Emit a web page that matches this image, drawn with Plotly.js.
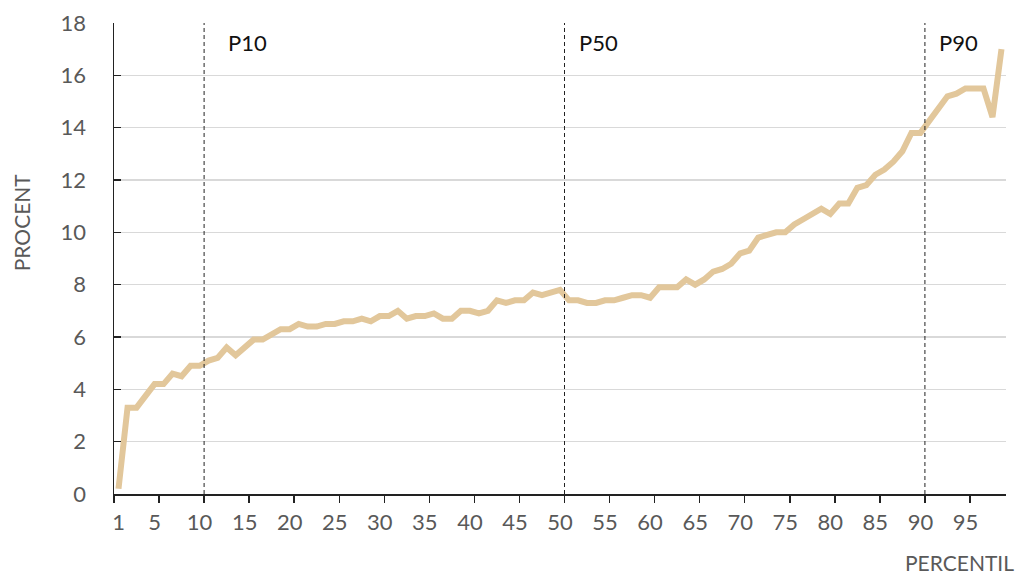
<!DOCTYPE html>
<html>
<head>
<meta charset="utf-8">
<script src="https://cdn.plot.ly/plotly-3.0.1.min.js"></script>
<style>html,body{margin:0;padding:0;background:#fff;}#chart{width:1022px;height:574px;}</style>
</head>
<body>
<div id="chart"></div>
<script>
// Percentiles (categories)
var percentiles = [1,2,3,4,5,6,7,8,9,10,11,12,13,14,15,16,17,18,19,20,21,22,23,24,25,26,27,28,29,30,31,32,33,34,35,36,37,38,39,40,41,42,43,44,45,46,47,48,49,50,51,52,53,54,55,56,57,58,59,60,61,62,63,64,65,66,67,68,69,70,71,72,73,74,75,76,77,78,79,80,81,82,83,84,85,86,87,88,89,90,91,92,93,94,95,96,97,98,99];
// Procent values
var procent = [0.2,3.3,3.3,3.8,4.2,4.2,4.6,4.5,4.9,4.9,
  5.1,5.2,5.6,5.3,5.6,5.9,5.9,6.1,6.3,6.3,
  6.5,6.4,6.4,6.5,6.5,6.6,6.6,6.7,6.6,6.8,
  6.8,7.0,6.7,6.8,6.8,6.9,6.7,6.7,7.0,7.0,
  6.9,7.0,7.4,7.3,7.4,7.4,7.7,7.6,7.7,7.8,
  7.4,7.4,7.3,7.3,7.4,7.4,7.5,7.6,7.6,7.5,
  7.9,7.9,7.9,8.2,8.0,8.2,8.5,8.6,8.8,9.2,
  9.3,9.8,9.9,10.0,10.0,10.3,10.5,10.7,10.9,10.7,
  11.1,11.1,11.7,11.8,12.2,12.4,12.7,13.1,13.8,13.8,
  14.3,14.7,15.2,15.3,15.5,15.5,15.5,14.4,17.0];
// Tick labels
var xTickVals = [1,5,10,15,20,25,30,35,40,45,50,55,60,65,70,75,80,85,90,95];
var xTickText = ['1','5','10','15','20','25','30','35','40','45','50','55','60','65','70','75','80','85','90','95'];
var xBoundaryTicks = [0.5,5.5,10.5,15.5,20.5,25.5,30.5,35.5,40.5,45.5,50.5,55.5,60.5,65.5,70.5,75.5,80.5,85.5,90.5,95.5];
var yTickVals = [0,2,4,6,8,10,12,14,16,18];
// Markers
var markerPos = [10.5, 50.5, 90.5];
var markerLabels = ['P10','P50','P90'];
var markerLabelX = [12.9, 51.9, 91.85];

var FONT = 'Lato, "Open Sans", "DejaVu Sans", sans-serif';
var GRAY = '#595959';

var traces = [
  {x: percentiles, y: procent, type: 'scatter', mode: 'lines',
   line: {color: '#E2C79B', width: 6}, hoverinfo: 'skip', xaxis: 'x', yaxis: 'y'},
  {x: percentiles, y: procent, type: 'scatter', mode: 'lines',
   line: {color: 'rgba(0,0,0,0)', width: 0}, hoverinfo: 'skip', xaxis: 'x2', yaxis: 'y', showlegend: false}
];

var shapes = markerPos.map(function(p){
  return {type: 'line', xref: 'x', yref: 'paper', x0: p, x1: p, y0: 0, y1: 1,
          line: {color: '#222', width: 1, dash: '4px,3px'}, layer: 'above'};
});

var annotations = markerLabels.map(function(t, i){
  return {text: t, xref: 'x', yref: 'y', x: markerLabelX[i], y: 17.27,
          xanchor: 'left', yanchor: 'middle', showarrow: false,
          font: {family: FONT, size: 22, color: '#111'}};
});
annotations.push({text: 'PROCENT', xref: 'paper', yref: 'paper', x: -0.1028, y: 0.5775,
  xanchor: 'center', yanchor: 'middle', textangle: -90, showarrow: false,
  font: {family: FONT, size: 21, color: GRAY}});
annotations.push({text: 'PERCENTIL', xref: 'paper', yref: 'paper', x: 1.0115, y: -0.1444,
  xanchor: 'right', yanchor: 'middle', showarrow: false,
  font: {family: FONT, size: 21, color: GRAY}});

var layout = {
  width: 1022, height: 574,
  margin: {l: 114, r: 16, t: 23, b: 80},
  paper_bgcolor: '#fff', plot_bgcolor: '#fff',
  showlegend: false,
  font: {family: FONT, size: 22, color: GRAY},
  xaxis: {
    range: [0.5, 99.5], tickmode: 'array', tickvals: xTickVals, ticktext: xTickText,
    ticks: 'outside', ticklen: 8, tickcolor: 'rgba(0,0,0,0)',
    showgrid: false, zeroline: false, showline: true, linecolor: '#222', linewidth: 1.5,
    tickfont: {family: FONT, size: 22, color: GRAY}, fixedrange: true
  },
  xaxis2: {
    range: [0.5, 99.5], overlaying: 'x', anchor: 'y', side: 'bottom',
    tickmode: 'array', tickvals: xBoundaryTicks, showticklabels: false,
    ticks: 'outside', ticklen: 8, tickwidth: 1.5, tickcolor: '#222',
    showgrid: false, zeroline: false, showline: false, fixedrange: true
  },
  yaxis: {
    range: [0, 18], tickmode: 'array', tickvals: yTickVals,
    ticks: 'inside', ticklen: 7, tickwidth: 1.5, tickcolor: '#222',
    ticklabelstandoff: 22,
    showgrid: true, gridcolor: '#d9d9d9', gridwidth: 1.5,
    zeroline: false, showline: true, linecolor: '#222', linewidth: 1.5,
    tickfont: {family: FONT, size: 22, color: GRAY}, fixedrange: true
  },
  shapes: shapes,
  annotations: annotations
};

Plotly.newPlot('chart', traces, layout, {displayModeBar: false, staticPlot: true});
</script>
</body>
</html>
